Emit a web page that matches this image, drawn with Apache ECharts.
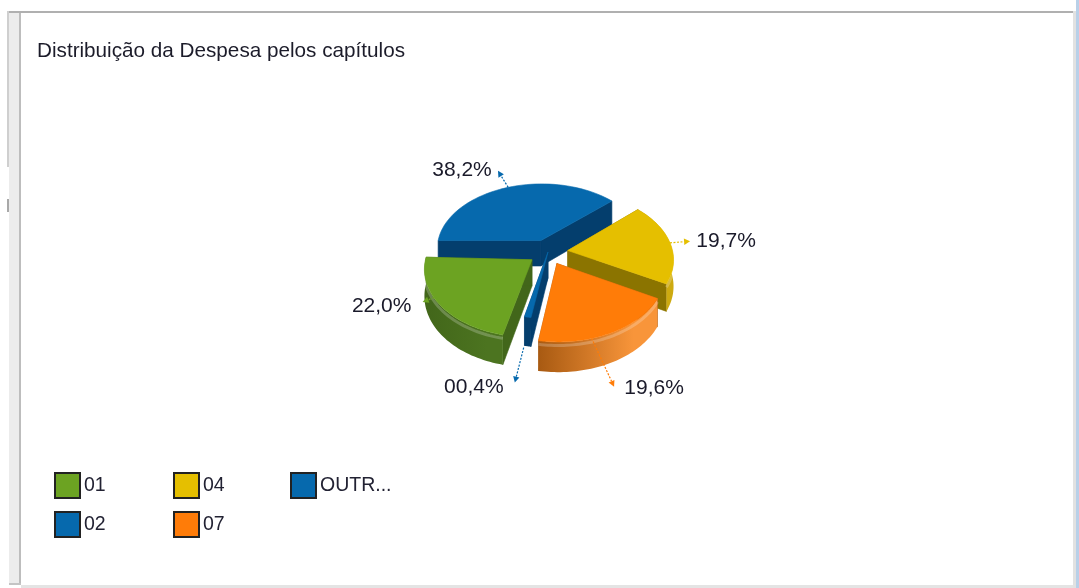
<!DOCTYPE html>
<html>
<head>
<meta charset="utf-8">
<title>Distribuição da Despesa pelos capítulos</title>
<style>
    html, body { margin: 0; padding: 0; background: #fff; }
    #chart { width: 1079px; height: 588px; filter: blur(0.5px); }
</style>
<script src="https://cdn.jsdelivr.net/npm/echarts@6/dist/echarts.min.js"></script>
</head>
<body>
<div id="chart"></div>
<script>
var categories = ['01', '02', '04', '07', 'OUTR...'];
var values = [22.0, 0.4, 19.7, 19.6, 38.2];
var labels = ['22,0%', '00,4%', '19,7%', '19,6%', '38,2%'];

var colors = ['#6ca322', '#0669ad', '#e5bf00', '#ff7c08', '#0669ad'];
var wallColors = ['#42661a', '#043e6d', '#8b7400', '#a85a12', '#043e6d'];
var wallLights = ['#4c7420', '#043e6d', '#cdaa10', '#f8953a', '#043e6d'];
var exploded = [0.19, 0, 0.19, 0.19, 0.19];
var sliceRadius = [1, 0.9, 1, 1, 1];

// clockwise from the left of the pie, and the order they are painted in
var sliceOrder = [4, 2, 3, 1, 0];
var paintOrder = [4, 2, 1, 3, 0];
var startAngle = 180;
var minSweep = 3.6;

// leader start and end (in pie radii), turn in degrees, label offset from the arrow tip
var leaderFrom = [1, 1.25, 1, 1, 1];
var leaderTo = [1.08, 1.59, 1.17, 1.5, 1.3];
var leaderTurn = [6, -2, 0, 10, 0];
var labelOffset = [[-41, 4], [-41, 5], [36, 0], [40, 2], [-36, -1]];

// the pie is a flat disc seen in perspective
var cx = 548, cy = 252, rx = 105, ry = 66, persp = 0.12, depth = 26;

function project(X, Y, Z) {
    var k = 1 / (1 - persp * Y);
    return [cx + X * rx * k, cy + (Y * ry + Z * depth) * k];
}

var total = values.reduce(function (a, b) { return a + b; }, 0);
var sectors = {};
var angle = startAngle;
sliceOrder.forEach(function (i) {
    var sweep = Math.max(values[i] / total * 360, minSweep);
    var mid = (angle + sweep / 2) * Math.PI / 180;
    sectors[i] = {
        a0: angle * Math.PI / 180,
        a1: (angle + sweep) * Math.PI / 180,
        mid: mid,
        sweep: sweep,
        ox: Math.cos(mid) * exploded[i],
        oy: Math.sin(mid) * exploded[i]
    };
    angle += sweep;
});

function rim(i, a, z, r) {
    var s = sectors[i];
    r = r === undefined ? sliceRadius[i] : r;
    return project(s.ox + Math.cos(a) * r, s.oy + Math.sin(a) * r, z);
}

function arc(i, z, from, to) {
    var pts = [];
    var steps = 48;
    for (var n = 0; n <= steps; n++) {
        pts.push(rim(i, from + (to - from) * n / steps, z));
    }
    return pts;
}

function polygon(pts, fill) {
    return { type: 'polygon', shape: { points: pts }, style: { fill: fill, stroke: fill, lineWidth: 0.6 } };
}

function sliceItem(i) {
    return function () {
        var s = sectors[i];
        var apexTop = project(s.ox, s.oy, 0);
        var apexBot = project(s.ox, s.oy, 1);
        var children = [];

        // cut walls
        [s.a0, s.a1].forEach(function (a) {
            children.push(polygon([apexTop, rim(i, a, 0), rim(i, a, 1), apexBot], wallColors[i]));
        });

        // outer wall, only the part that faces us
        var from = s.a0, to = s.a1;
        if (s.a0 < Math.PI && s.a1 > 2 * Math.PI) {
            from = 2 * Math.PI;
        }
        if (s.a0 >= Math.PI && s.a1 <= 2 * Math.PI) {
            from = to = 0;
        }
        if (to > from) {
            var top = arc(i, 0, from, to);
            var bottom = arc(i, 1, from, to).reverse();
            var wall = polygon(top.concat(bottom), wallColors[i]);
            wall.style.fill = new echarts.graphic.LinearGradient(0, 0, 1, 0, [
                { offset: 0, color: wallColors[i] },
                { offset: 0.8, color: wallLights[i] },
                { offset: 1, color: wallLights[i] }
            ]);
            wall.style.stroke = null;
            children.push(wall);
            if (s.sweep > 10) {
                children.push({
                    type: 'polyline',
                    shape: { points: arc(i, 0.12, from, to) },
                    style: { fill: null, stroke: 'rgba(255,255,255,0.22)', lineWidth: 3 }
                });
            }
        }

        // top face
        children.push(polygon([apexTop].concat(arc(i, 0, s.a0, s.a1)), colors[i]));
        return { type: 'group', children: children };
    };
}

function leaderItem(params) {
    var i = params.dataIndex;
    var s = sectors[i];
    var turned = s.mid + leaderTurn[i] * Math.PI / 180;
    var a = rim(i, turned, 0, leaderFrom[i]);
    var b = rim(i, turned, 0, leaderTo[i]);
    var ang = Math.atan2(b[1] - a[1], b[0] - a[0]);
    var tip = [b[0] + Math.cos(ang) * 3, b[1] + Math.sin(ang) * 3];
    var nx = -Math.sin(ang), ny = Math.cos(ang);
    var back = [tip[0] - Math.cos(ang) * 6, tip[1] - Math.sin(ang) * 6];
    return {
        type: 'group',
        children: [{
            type: 'line',
            shape: { x1: a[0], y1: a[1], x2: back[0], y2: back[1] },
            style: { stroke: colors[i], lineWidth: 1.2, lineDash: [2, 1.5] }
        }, {
            type: 'polygon',
            shape: { points: [tip, [back[0] + nx * 3.2, back[1] + ny * 3.2], [back[0] - nx * 3.2, back[1] - ny * 3.2]] },
            style: { fill: colors[i] }
        }, {
            type: 'text',
            style: {
                x: tip[0] + labelOffset[i][0],
                y: tip[1] + labelOffset[i][1],
                text: labels[i],
                fill: '#1a1a2a',
                font: '21px "Liberation Sans", Arial, sans-serif',
                align: 'center',
                verticalAlign: 'middle'
            }
        }]
    };
}

var series = paintOrder.map(function (i) {
    return {
        type: 'custom',
        name: categories[i],
        coordinateSystem: 'none',
        silent: true,
        animation: false,
        itemStyle: { color: colors[i] },
        data: [values[i]],
        renderItem: sliceItem(i)
    };
});
series.push({
    type: 'custom',
    name: 'rotulos',
    coordinateSystem: 'none',
    silent: true,
    animation: false,
    data: values,
    renderItem: leaderItem
});

function legendColumn(left, names) {
    return {
        orient: 'vertical',
        left: left,
        top: 467,
        data: names,
        icon: 'rect',
        selectedMode: false,
        itemWidth: 25,
        itemHeight: 25,
        itemGap: 12,
        itemStyle: { borderColor: '#222', borderWidth: 2 },
        textStyle: {
            color: '#223',
            fontSize: 19.5,
            fontFamily: '"Liberation Sans", Arial, sans-serif',
            padding: [3, 0, 0, -1]
        }
    };
}

function bar(x, y, w, h, fill) {
    return { type: 'rect', silent: true, z: -1, shape: { x: x, y: y, width: w, height: h }, style: { fill: fill } };
}

var chart = echarts.init(document.getElementById('chart'));
chart.setOption({
    backgroundColor: '#ffffff',
    animation: false,
    title: {
        text: 'Distribuição da Despesa pelos capítulos',
        left: 32,
        top: 36,
        textStyle: {
            color: '#1c1c2a',
            fontSize: 20.7,
            fontWeight: 'normal',
            fontFamily: '"Liberation Sans", Arial, sans-serif'
        }
    },
    legend: [
        legendColumn(49, ['01', '02']),
        legendColumn(168, ['04', '07']),
        legendColumn(285, ['OUTR...'])
    ],
    graphic: [
        bar(9, 11, 10, 574, '#ececec'),
        bar(7, 11, 2, 156, '#cfcfcf'),
        bar(7, 199, 2, 13, '#a8a8a8'),
        bar(19, 11, 2, 574, '#bdbdbd'),
        bar(9, 11, 1064, 2, '#b0b0b0'),
        bar(9, 583, 12, 2, '#c4c4c4'),
        bar(21, 585, 1052, 3, '#e4e4e4'),
        bar(1073, 11, 3, 577, '#e2e2e2'),
        bar(1076, 0, 3, 588, '#b9d0e8')
    ],
    series: series
});
</script>
</body>
</html>
